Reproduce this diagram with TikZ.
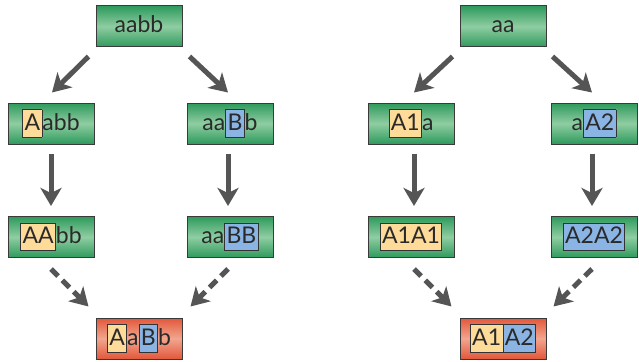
\documentclass[tikz,border=0pt]{standalone}
\usepackage{fontspec}
\setmainfont{Lato}
\usetikzlibrary{arrows.meta,calc}
\definecolor{gEdge}{HTML}{2E9A5C}
\definecolor{gMid}{HTML}{8FCDA2}
\definecolor{rEdge}{HTML}{E2573B}
\definecolor{rMid}{HTML}{F2A68E}
\definecolor{hlyel}{HTML}{FFDB9A}
\definecolor{hlblue}{HTML}{8AB4E4}
\definecolor{hlline}{HTML}{333333}
\definecolor{boxline}{HTML}{3A3A3A}
\definecolor{txt}{HTML}{2A2A2A}
\definecolor{arrgray}{HTML}{555555}
\newcommand{\nstrut}{\rule[-7.3pt]{0pt}{25.8pt}}
\newcommand{\hly}[1]{{\setlength{\fboxsep}{1.5pt}\setlength{\fboxrule}{0.8pt}\fcolorbox{hlline}{hlyel}{\rule[-5pt]{0pt}{23.5pt}#1}}}
\newcommand{\hlb}[1]{{\setlength{\fboxsep}{1.5pt}\setlength{\fboxrule}{0.8pt}\fcolorbox{hlline}{hlblue}{\rule[-5pt]{0pt}{23.5pt}#1}}}
\begin{document}
\begin{tikzpicture}[x=1pt,y=-1pt,
  gbox/.style={draw=boxline, line width=1pt, minimum width=86pt, minimum height=41pt,
    inner sep=0pt, top color=gEdge, bottom color=gEdge, middle color=gMid,
    text=txt, font=\fontsize{23}{23}\selectfont, execute at begin node=\nstrut},
  rbox/.style={gbox, top color=rEdge, bottom color=rEdge, middle color=rMid},
  arr/.style={draw=arrgray, line width=5pt, -{Stealth[length=18pt,width=21pt,inset=5pt]}},
  darr/.style={arr, dash pattern=on 10pt off 6pt}]
\useasboundingbox (0,0) rectangle (639,361);
% left tree
\node[gbox] (La) at (139,26.5) {aabb};
\node[gbox] (Lb) at (51,123.5) {\hly{A}abb};
\node[gbox] (Lc) at (230,123.5) {aa\hlb{B}b};
\node[gbox] (Ld) at (51,237) {\hly{AA}bb};
\node[gbox] (Le) at (230,237) {aa\hlb{BB}};
\node[rbox] (Lf) at (139,338.5) {\hly{A}a\hlb{B}b};
% right tree
\node[gbox] (Ra) at (503,26.5) {aa};
\node[gbox] (Rb) at (411,123.5) {\hly{A1}a};
\node[gbox] (Rc) at (594,123.5) {a\hlb{A2}};
\node[gbox] (Rd) at (411,237) {\hly{A1A1}};
\node[gbox] (Re) at (594,237) {\hlb{A2A2}};
\node[rbox] (Rf) at (503,338.5) {\hly{A1}\hspace{-0.8pt}\hlb{A2}};
% arrows left
\draw[arr] ($(La.south west)+(-7,9)$) -- ($(Lb.north)+(1,-10)$);
\draw[arr] ($(La.south east)+(7,9)$) -- ($(Lc.north)+(-2,-10)$);
\draw[arr] ($(Lb.south)+(0,9)$) -- ($(Ld.north)+(0,-10)$);
\draw[arr] ($(Lc.south)+(-2,9)$) -- ($(Le.north)+(-2,-10)$);
\draw[darr] ($(Ld.south)+(0,11)$) -- ($(Lf.north west)+(-7,-11)$);
\draw[darr] ($(Le.south)+(-2,11)$) -- ($(Lf.north east)+(8,-11)$);
% arrows right
\draw[arr] ($(Ra.south west)+(-7,9)$) -- ($(Rb.north)+(3,-10)$);
\draw[arr] ($(Ra.south east)+(6,9)$) -- ($(Rc.north)+(-2,-10)$);
\draw[arr] ($(Rb.south)+(3,9)$) -- ($(Rd.north)+(3,-10)$);
\draw[arr] ($(Rc.south)+(-2,9)$) -- ($(Re.north)+(-2,-10)$);
\draw[darr] ($(Rd.south)+(3,11)$) -- ($(Rf.north west)+(-8,-11)$);
\draw[darr] ($(Re.south)+(-2,11)$) -- ($(Rf.north east)+(7,-11)$);
\end{tikzpicture}
\end{document}
